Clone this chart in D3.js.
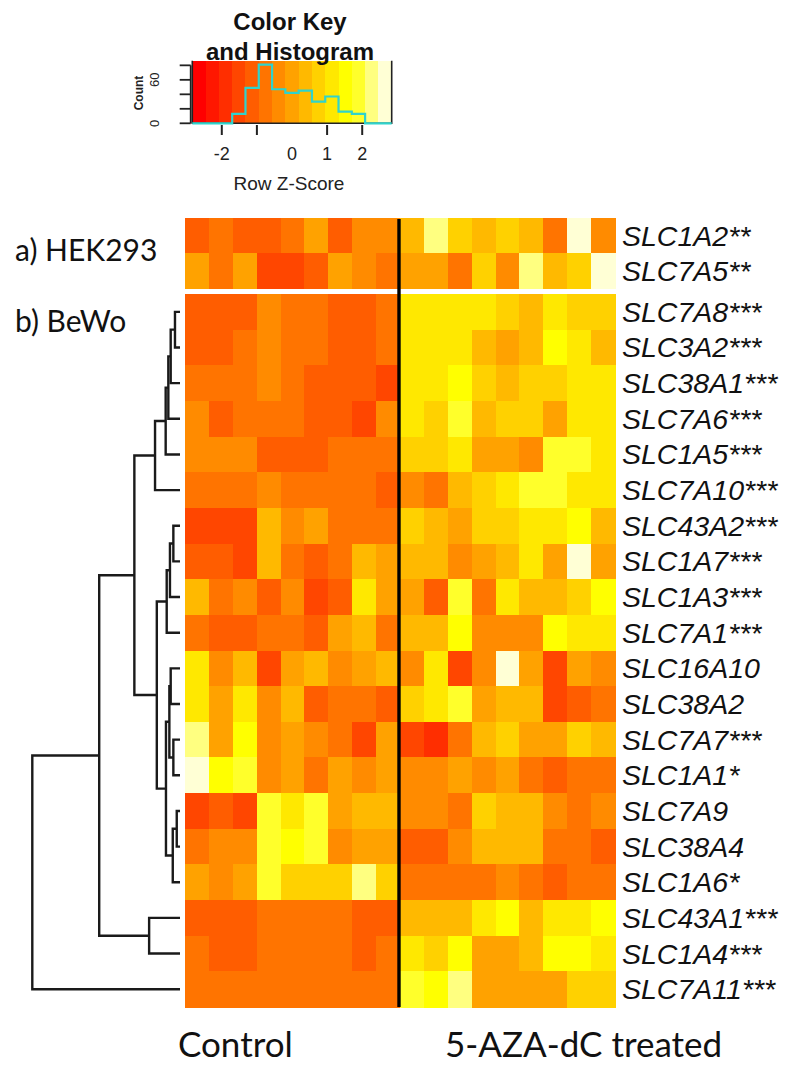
<!DOCTYPE html>
<html><head><meta charset="utf-8">
<script src="https://cdn.jsdelivr.net/npm/d3@7"></script>
<style>body{margin:0;background:#fff} svg{display:block}</style>
</head><body>
<svg id="chart" width="800" height="1071"></svg>
<script>
// ---------------- data ----------------
const groups = ["Control", "5-AZA-dC treated"];
const samplesPerGroup = 9;

const hekGenes = ["SLC1A2**", "SLC7A5**"];
const hekValues = [
  [-1.1,-0.75,-1.1,-1.1,-0.75,0.0,-1.1,-0.4,-0.4, 0.4,2.3,0.75,0.4,0.75,0.4,-0.75,2.65,-0.4],
  [0.0,-0.75,0.0,-1.5,-1.5,-1.1,0.0,-0.4,-0.75, 0.0,0.0,-0.75,0.75,-0.4,2.3,0.4,0.75,2.65]
];

const bewoGenes = ["SLC7A8***","SLC3A2***","SLC38A1***","SLC7A6***","SLC1A5***","SLC7A10***",
  "SLC43A2***","SLC1A7***","SLC1A3***","SLC7A1***","SLC16A10","SLC38A2","SLC7A7***","SLC1A1*",
  "SLC7A9","SLC38A4","SLC1A6*","SLC43A1***","SLC1A4***","SLC7A11***"];
const bewoValues = [
  [-1.1,-1.1,-1.1,-0.4,-0.75,-0.75,-1.1,-1.1,-0.75, 1.15,1.15,1.15,1.15,0.75,0.4,1.15,0.75,0.75],
  [-1.1,-1.1,-0.75,-0.4,-0.75,-0.75,-1.1,-1.1,-0.75, 1.15,1.15,1.15,0.4,0.0,0.4,1.5,1.15,0.4],
  [-0.75,-0.75,-0.75,-0.4,-0.75,-1.1,-1.1,-1.1,-1.5, 1.15,1.15,1.5,0.75,0.4,0.75,0.75,1.15,1.15],
  [-0.4,-1.1,-0.75,-0.75,-0.75,-1.1,-1.1,-1.5,-0.4, 1.15,0.75,1.9,0.4,0.75,0.75,0.0,1.15,1.15],
  [-0.4,-0.4,-0.4,-1.1,-1.1,-1.1,-0.75,-0.75,-0.75, 0.75,0.75,1.15,0.0,0.0,-0.4,1.9,1.9,1.15],
  [-0.75,-0.75,-0.75,-0.4,-0.75,-0.75,-0.75,-0.75,-1.1, -0.4,-0.75,0.4,0.75,1.15,1.9,1.9,1.15,1.15],
  [-1.5,-1.5,-1.5,0.4,-0.4,0.0,-0.75,-0.75,-0.75, 0.75,0.4,0.0,0.75,0.75,1.15,1.15,1.5,0.4],
  [-1.1,-1.1,-1.5,0.4,-0.75,-1.1,-0.75,0.4,0.0, 0.4,0.4,-0.4,0.0,0.4,1.15,0.0,2.65,0.0],
  [0.4,-0.75,-0.4,-1.1,-0.4,-1.5,-1.1,1.15,0.0, 0.0,-1.1,1.9,-0.75,1.15,0.4,0.4,0.75,1.5],
  [-0.75,-1.1,-1.1,-0.75,-0.75,-1.1,0.0,0.4,-0.75, 0.4,0.4,1.5,-0.4,-0.4,-0.4,1.5,1.15,1.15],
  [1.15,-0.4,0.4,-1.5,0.0,0.4,-0.4,0.0,0.4, -0.4,1.15,-1.5,-0.4,2.65,0.0,-1.5,0.0,-0.4],
  [1.15,0.0,1.15,-0.4,0.4,-1.1,-0.75,-0.75,-1.1, 0.75,1.15,1.9,0.0,0.4,0.4,-1.5,-1.1,-0.75],
  [2.3,0.0,1.5,-0.4,0.0,-0.4,-0.75,-1.5,0.0, -1.5,-1.9,-0.75,0.4,0.75,0.0,0.0,0.75,0.4],
  [2.65,1.5,1.9,-0.4,0.0,-0.75,0.0,-0.4,0.0, -0.4,-0.4,0.0,-0.4,0.0,-0.75,-1.1,-0.75,-0.75],
  [-1.5,-1.1,-1.5,1.9,1.15,1.9,0.0,0.4,0.4, -0.4,-0.4,-0.75,0.75,0.4,0.4,-0.4,-0.75,-0.4],
  [-0.75,-0.4,-0.4,1.9,1.5,1.9,-0.4,0.0,0.0, -1.1,-1.1,-0.4,0.4,0.4,0.4,-0.75,-0.75,-1.1],
  [0.0,-0.4,0.0,1.9,0.75,0.75,0.75,2.3,0.75, -0.75,-0.75,-0.75,-0.75,-0.4,-0.75,-1.1,-0.75,-0.75],
  [-1.1,-1.1,-1.1,-0.75,-0.75,-0.75,-0.75,-1.1,-1.1, 0.4,0.4,0.4,1.15,1.5,0.4,1.15,1.15,1.5],
  [-0.75,-1.1,-1.1,-0.75,-0.75,-0.75,-0.75,-1.1,-0.75, 1.15,0.75,1.5,0.0,0.0,0.4,1.5,1.5,1.15],
  [-0.75,-0.75,-0.75,-0.75,-0.75,-0.75,-0.75,-0.75,-0.75, 1.9,1.5,2.3,0.0,0.0,0.0,0.0,0.75,0.75]
];

// row dendrogram (hclust-style merges: negative = leaf index+1, positive = merge number)
const rowMerges = [
  [-1,-2,0.34],[1,-3,0.63],[2,-4,0.79],[3,-5,0.97],[4,-6,1.69],
  [-7,-8,0.45],[6,-9,0.68],[7,-10,0.90],
  [-11,-12,0.63],[-13,-14,0.45],[9,10,0.72],
  [-15,-16,0.22],[12,-17,0.49],[11,13,0.95],[8,14,1.57],[5,15,3.09],
  [-18,-19,2.09],[16,17,5.47],[18,-20,10.0]
];

// colour key
const keyLimit = 2.84;
const keyColors = ["#FF0000","#FF1700","#FF2E00","#FF4600","#FF5D00","#FF7400","#FF8B00","#FFA200",
  "#FFB900","#FFD100","#FFE800","#FFFF00","#FFFF2B","#FFFF80","#FFFFD5"];
const histCounts = [0,0,0,13,49,81,47,42,45,30,37,16,13,0,0];
const keyTicks = [-2,-1,1,2];
const keyTickLabels = [-2,0,1,2];
const countTicks = [0,20,40,60,80];
const countTickLabels = [0,60];

// ---------------- drawing ----------------
const svg = d3.select("#chart");
const nCols = groups.length * samplesPerGroup;

const x = d3.scaleBand().domain(d3.range(nCols)).range([185, 615]);
const yHek = d3.scaleBand().domain(hekGenes).range([218, 288]);
const yBewo = d3.scaleBand().domain(bewoGenes).range([294, 1007]);
const color = d3.scaleQuantize().domain([-keyLimit, keyLimit]).range(keyColors);

function drawBlock(genes, values, y) {
  const g = svg.append("g").attr("shape-rendering", "crispEdges");
  genes.forEach((gene, r) => {
    g.selectAll(null).data(values[r]).join("rect")
      .attr("x", (d, i) => x(i))
      .attr("y", y(gene))
      .attr("width", x.bandwidth() + 0.6)
      .attr("height", y.bandwidth() + 0.6)
      .attr("fill", d => color(d));
  });
  svg.append("g").selectAll("text").data(genes).join("text")
    .attr("x", 622)
    .attr("y", d => y(d) + y.bandwidth() / 2 + 10)
    .attr("font-family", "'Liberation Sans', Arial, sans-serif")
    .attr("font-style", "italic")
    .attr("font-size", 28.5)
    .attr("fill", "#111")
    .text(d => d);
}
drawBlock(hekGenes, hekValues, yHek);
drawBlock(bewoGenes, bewoValues, yBewo);

// separator line between groups
svg.append("line")
  .attr("x1", x(samplesPerGroup) - 1).attr("x2", x(samplesPerGroup) - 1)
  .attr("y1", 219).attr("y2", 1007)
  .attr("stroke", "#000").attr("stroke-width", 3.4);

// dendrogram
const hx = d3.scaleLinear().domain([0, 10]).range([180, 32.3]);
const leafY = i => yBewo(bewoGenes[i]) + yBewo.bandwidth() / 2;
const nodes = [];
const pos = id => id < 0 ? { x: hx(0), y: leafY(-id - 1) } : nodes[id - 1];
const dend = svg.append("g").attr("fill", "none").attr("stroke", "#1a1a1a").attr("stroke-width", 2.4);
rowMerges.forEach(([a, b, h]) => {
  const pa = pos(a), pb = pos(b);
  const node = { x: hx(h), y: (pa.y + pb.y) / 2 };
  nodes.push(node);
  dend.append("path").attr("d", `M${pa.x},${pa.y}H${node.x}V${pb.y}H${pb.x}`);
});

// left panel labels
svg.append("text").attr("x", 15).attr("y", 261)
  .attr("font-family", "Lato, 'Open Sans', sans-serif").attr("font-size", 30).attr("fill", "#111")
  .text("a) HEK293");
svg.append("text").attr("x", 15).attr("y", 332)
  .attr("font-family", "Lato, 'Open Sans', sans-serif").attr("font-size", 30).attr("fill", "#111")
  .text("b) BeWo");

// bottom group labels
const groupX = [178, 445];
svg.append("g").selectAll("text").data(groups).join("text")
  .attr("x", (d, i) => groupX[i]).attr("y", 1057)
  .attr("font-family", "Lato, 'Open Sans', sans-serif").attr("font-size", 35).attr("fill", "#111")
  .text(d => d);

// ---------------- colour key ----------------
const kx = d3.scaleLinear().domain([-keyLimit, keyLimit]).range([192.3, 391.7]);
const ky = d3.scaleLinear().domain([0, 86.4]).range([123.3, 60.7]);
const nb = keyColors.length;
const breaks = d3.range(nb + 1).map(i => -keyLimit + i * 2 * keyLimit / nb);
const key = svg.append("g");
key.append("g").attr("shape-rendering", "crispEdges").selectAll("rect").data(keyColors).join("rect")
  .attr("x", (d, i) => kx(breaks[i]))
  .attr("y", ky.range()[1])
  .attr("width", (d, i) => kx(breaks[i + 1]) - kx(breaks[i]) + 0.5)
  .attr("height", ky.range()[0] - ky.range()[1])
  .attr("fill", d => d);
// frame (left/right/bottom)
key.append("path")
  .attr("d", `M${kx.range()[0]},${ky.range()[1]}V${ky.range()[0]}H${kx.range()[1]}V${ky.range()[1]}`)
  .attr("fill", "none").attr("stroke", "#222").attr("stroke-width", 1.6);
// histogram step line
const histPts = [];
histCounts.forEach((c, i) => { histPts.push([breaks[i], c], [breaks[i + 1], c]); });
key.append("path")
  .attr("d", d3.line().x(d => kx(d[0])).y(d => ky(d[1]))(histPts))
  .attr("fill", "none").attr("stroke", "#2fd3cc").attr("stroke-width", 2.2);

// x axis of key
key.append("g").selectAll("line").data(keyTicks).join("line")
  .attr("x1", d => kx(d)).attr("x2", d => kx(d))
  .attr("y1", 125).attr("y2", 135)
  .attr("stroke", "#222").attr("stroke-width", 2);
key.append("g").selectAll("text").data(keyTickLabels).join("text")
  .attr("x", d => kx(d)).attr("y", 160)
  .attr("text-anchor", "middle")
  .attr("font-family", "'Liberation Sans', Arial, sans-serif").attr("font-size", 18).attr("fill", "#222")
  .text(d => d);
key.append("text").attr("x", kx(0) - 3).attr("y", 190)
  .attr("text-anchor", "middle")
  .attr("font-family", "'Liberation Sans', Arial, sans-serif").attr("font-size", 19).attr("fill", "#222")
  .text("Row Z-Score");

// count axis
const axX = 190.7;
key.append("line").attr("x1", axX).attr("x2", axX).attr("y1", ky(80)).attr("y2", ky(0))
  .attr("stroke", "#222").attr("stroke-width", 1.8);
key.append("g").selectAll("line").data(countTicks).join("line")
  .attr("x1", axX).attr("x2", axX - 11).attr("y1", d => ky(d)).attr("y2", d => ky(d))
  .attr("stroke", "#222").attr("stroke-width", 1.8);
key.append("g").selectAll("text").data(countTickLabels).join("text")
  .attr("transform", d => `translate(159,${ky(d)}) rotate(-90)`)
  .attr("text-anchor", "middle")
  .attr("font-family", "'Liberation Sans', Arial, sans-serif").attr("font-size", 13).attr("fill", "#222")
  .text(d => d);
key.append("text").attr("transform", `translate(143,93) rotate(-90)`)
  .attr("text-anchor", "middle")
  .attr("font-family", "'Liberation Sans', Arial, sans-serif").attr("font-size", 12).attr("font-weight", "bold")
  .attr("fill", "#222")
  .text("Count");

// key title
key.append("text").attr("x", 290).attr("y", 30).attr("text-anchor", "middle")
  .attr("font-family", "'Liberation Sans', Arial, sans-serif").attr("font-size", 24).attr("font-weight", "bold")
  .attr("fill", "#111").text("Color Key");
key.append("text").attr("x", 290).attr("y", 60).attr("text-anchor", "middle")
  .attr("font-family", "'Liberation Sans', Arial, sans-serif").attr("font-size", 24).attr("font-weight", "bold")
  .attr("fill", "#111").text("and Histogram");
</script>
</body></html>
